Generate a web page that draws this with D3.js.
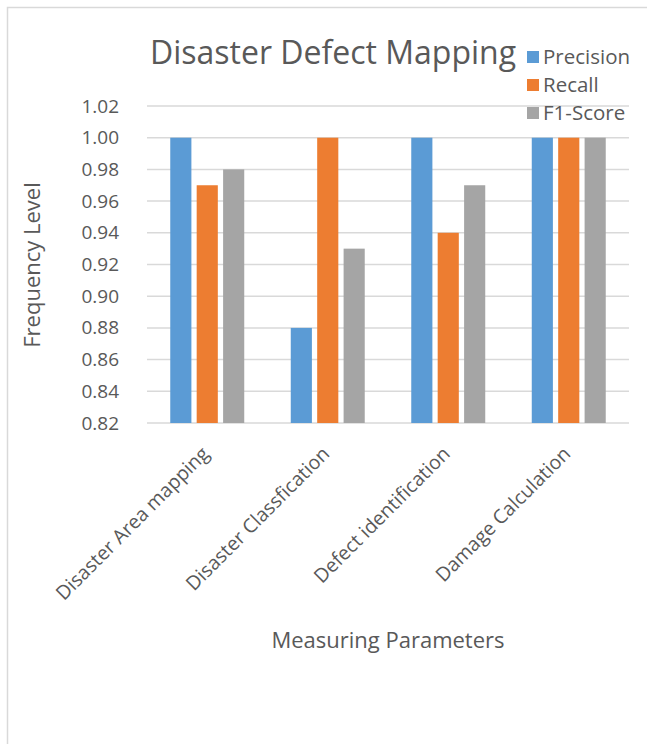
<!DOCTYPE html>
<html><head><meta charset="utf-8">
<script src="https://cdn.jsdelivr.net/npm/d3@7"></script>
<style>body{margin:0;background:#fff}svg{display:block}text{font-family:"Open Sans",sans-serif;fill:#595959}</style>
</head><body>
<svg id="c" width="647" height="744"></svg>
<script>
const categories = ["Disaster Area mapping","Disaster Classfication","Defect identification","Damage Calculation"];
const seriesNames = ["Precision","Recall","F1-Score"];
const precision = [1.00, 0.88, 1.00, 1.00];
const recall = [0.97, 1.00, 0.94, 1.00];
const f1 = [0.98, 0.93, 0.97, 1.00];
const yTicks = [0.82,0.84,0.86,0.88,0.90,0.92,0.94,0.96,0.98,1.00,1.02];
const colors = ["#5b9bd5","#ed7d31","#a5a5a5"];
const seriesVals = [precision, recall, f1];

const svg = d3.select("#c");
svg.append("rect").attr("x",7.5).attr("y",7.5).attr("width",700).attr("height",800)
  .attr("fill","#fff").attr("stroke","#d9d9d9").attr("stroke-width",1.5);

const pLeft=147, pRight=629, pTop=106, pBottom=423;
const y = d3.scaleLinear().domain([0.82,1.02]).range([pBottom,pTop]);
const x0 = d3.scaleBand().domain(categories).range([pLeft,pRight]).paddingInner(0.386).paddingOuter(0.193);
const x1 = d3.scaleBand().domain(seriesNames).range([0,x0.bandwidth()]).paddingInner(0.2);

// gridlines
svg.append("g").selectAll("line").data(yTicks).join("line")
  .attr("x1",pLeft).attr("x2",pRight).attr("y1",d=>y(d)).attr("y2",d=>y(d))
  .attr("stroke","#d9d9d9").attr("stroke-width",1.5);

// y tick labels
const ya = svg.append("g").attr("transform",`translate(${pLeft},0)`)
  .call(d3.axisLeft(y).tickValues(yTicks).tickFormat(d3.format(".2f")).tickSize(0).tickPadding(28));
ya.select(".domain").remove();
ya.selectAll("text").style("font-size","19px").style("fill","#595959").style("font-family","'Open Sans',sans-serif");

// bars
const g = svg.append("g");
categories.forEach((c,i)=>{
  seriesNames.forEach((s,j)=>{
    g.append("rect").attr("x",x0(c)+x1(s)).attr("width",x1.bandwidth())
      .attr("y",y(seriesVals[j][i])).attr("height",y(0.82)-y(seriesVals[j][i]))
      .attr("fill",colors[j]);
  });
});

// x labels
const xa = svg.append("g").attr("transform",`translate(0,${pBottom})`)
  .call(d3.axisBottom(x0).tickSize(0).tickPadding(0));
xa.select(".domain").remove();
xa.selectAll("text").style("font-size","19.5px").style("fill","#595959").style("font-family","'Open Sans',sans-serif")
  .attr("text-anchor","end").attr("dy",null)
  .attr("transform","translate(3,32) rotate(-45)");

// title
svg.append("text").attr("x",333).attr("y",64).attr("text-anchor","middle")
  .style("font-size","32px").text("Disaster Defect Mapping");

// legend
seriesNames.forEach((s,j)=>{
  const ly = 57 + j*28;
  svg.append("rect").attr("x",527).attr("y",ly-6).attr("width",12).attr("height",12).attr("fill",colors[j]);
  svg.append("text").attr("x",543).attr("y",ly).attr("dy","0.35em").style("font-size","20.5px").text(s);
});

// axis titles
svg.append("text").attr("transform","translate(40,265) rotate(-90)").attr("text-anchor","middle")
  .style("font-size","22px").text("Frequency Level");
svg.append("text").attr("x",388).attr("y",648).attr("text-anchor","middle")
  .style("font-size","22px").text("Measuring Parameters");
</script>
</body></html>
